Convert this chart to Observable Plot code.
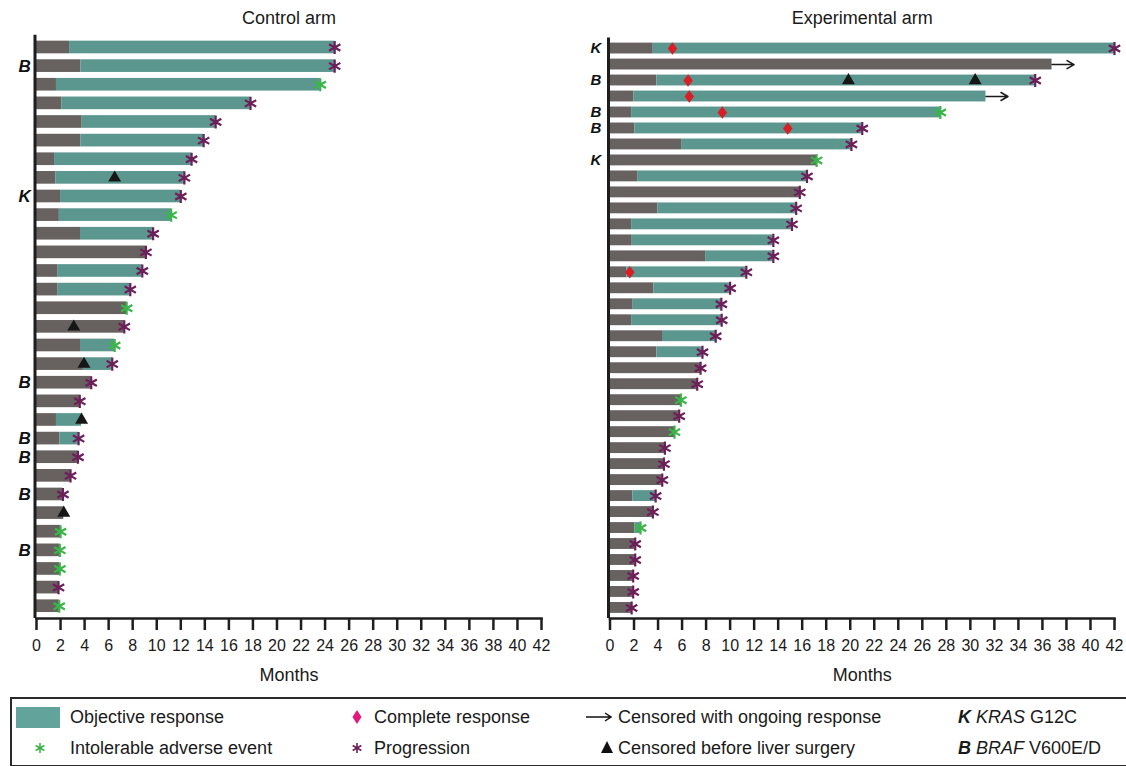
<!DOCTYPE html>
<html>
<head>
<meta charset="utf-8">
<script src="https://cdn.jsdelivr.net/npm/d3@7"></script>
<script src="https://cdn.jsdelivr.net/npm/@observablehq/plot@0.6"></script>
<style>
  body { margin: 0; background: #fff; font-family: "Liberation Sans", Arial, sans-serif; }
  #wrap { position: relative; width: 1126px; height: 766px; overflow: hidden; background: #fff; }
  #control { position: absolute; left: 0; top: 0; }
  #experimental { position: absolute; left: 574px; top: 0; }
  #legendBox { position: absolute; left: 10px; top: 697px; width: 1122px; height: 70px; border: 2px solid #2a2a2a; box-sizing: border-box; }
  #legendSym { position: absolute; left: 0; top: 0; }
  .li { position: absolute; font-size: 18px; line-height: 20px; height: 20px; color: #1a1a1a; white-space: nowrap; }
</style>
</head>
<body>
<div id="wrap">
  <div id="control"></div>
  <div id="experimental"></div>
  <div id="legendBox"></div>
  <svg id="legendSym" width="1126" height="766"></svg>
</div>
<script>
// ---------------- DATA ----------------
const monthTicks = [0,2,4,6,8,10,12,14,16,18,20,22,24,26,28,30,32,34,36,38,40,42];

// Control arm (one entry per patient, top to bottom)
const controlResponseStart = [2.75,3.7,1.66,2.1,3.8,3.7,1.5,1.6,2.0,1.9,3.66,null,1.8,1.8,null,null,3.66,3.9,null,null,1.66,1.94,null,null,null,null,null,null,null,null,null];
const controlEnd = [24.8,24.8,23.6,17.8,14.9,13.9,12.9,12.3,12.0,11.2,9.7,9.1,8.8,7.8,7.5,7.3,6.5,6.3,4.55,3.6,3.75,3.5,3.45,2.83,2.2,2.27,2.0,1.94,1.94,1.83,1.89];
const controlEvent = ["P","P","A","P","P","P","P","P","P","A","P","P","P","P","A","P","A","P","P","P","","P","P","P","P","","A","A","A","P","A"];
const controlCensorRow = [8,16,18,21,26];
const controlCensorMonth = [6.5,3.1,3.95,3.75,2.27];
const controlCRRow = [];
const controlCRMonth = [];
const controlMutationRow = [2,9,19,22,23,25,28];
const controlMutation = ["B","K","B","B","B","B","B"];

// Experimental arm
const expResponseStart = [3.6,null,3.9,2.0,1.8,2.07,5.96,null,2.3,null,4.0,1.8,1.85,7.96,1.4,3.65,1.93,1.8,4.37,3.9,null,null,null,null,null,null,null,null,1.9,null,2.07,null,null,null,null,null];
const expEnd = [42.0,36.8,35.4,31.3,27.5,21.0,20.1,17.2,16.4,15.8,15.5,15.15,13.6,13.6,11.35,10.0,9.27,9.3,8.8,7.7,7.54,7.26,5.9,5.76,5.37,4.57,4.49,4.35,3.8,3.57,2.54,2.1,2.1,1.93,1.93,1.8];
const expEvent = ["P","C","P","C","A","P","P","A","P","P","P","P","P","P","P","P","P","P","P","P","P","P","A","P","A","P","P","P","P","P","A","P","P","P","P","P"];
const expCensorRow = [3,3];
const expCensorMonth = [19.85,30.4];
const expCRRow = [1,3,4,5,6,15];
const expCRMonth = [5.2,6.5,6.6,9.35,14.8,1.65];
const expMutationRow = [1,3,5,6,8];
const expMutation = ["K","B","B","B","K"];

// ---------------- STYLE ----------------
const GREY = "#67625f";
const TEAL = "#5b978f";
const PURPLE = "#6c1f58";
const GREEN = "#3bb54a";
const RED = "#d81e26";
const INK = "#1e1e1e";
const NARROW = "'Liberation Sans Narrow', 'Arial Narrow', 'Liberation Sans', Arial, sans-serif";
const SANS = "'Liberation Sans', Arial, sans-serif";

const tallDiamond = {
  draw(context, size) {
    const r = Math.sqrt(size / Math.PI);
    context.moveTo(0, -1.25 * r);
    context.lineTo(0.95 * r, 0);
    context.lineTo(0, 1.25 * r);
    context.lineTo(-0.95 * r, 0);
    context.closePath();
  }
};
const openArrow = {
  draw(context, l) {
    context.moveTo(0, 0);
    context.lineTo(0, -l);
    context.moveTo(-4, -l + 7);
    context.lineTo(0, -l);
    context.lineTo(4, -l + 7);
  }
};

function arm(o) {
  const rows = o.end.map((e, i) => ({row: i + 1, start: o.start[i], end: e, event: o.event[i]}));
  const responders = rows.filter(d => d.start != null);
  const censor = o.censorRow.map((r, i) => ({row: r, month: o.censorMonth[i]}));
  const cr = o.crRow.map((r, i) => ({row: r, month: o.crMonth[i]}));
  const muts = o.mutRow.map((r, i) => ({row: r, label: o.mut[i]}));
  const H = 688;
  return Plot.plot({
    width: o.width, height: H,
    marginLeft: o.marginLeft, marginRight: o.marginRight,
    marginTop: o.marginTop, marginBottom: H - 618,
    style: {fontFamily: SANS, fontSize: "16px", background: "transparent", overflow: "visible"},
    x: {domain: [0, 42], label: null},
    y: {type: "band", domain: rows.map(d => d.row), padding: 0.32, round: false, axis: null},
    marks: [
      Plot.barX(rows, {y: "row", x1: 0, x2: d => d.start ?? d.end, fill: GREY}),
      Plot.barX(responders, {y: "row", x1: "start", x2: "end", fill: TEAL}),
      Plot.ruleX([0], {stroke: INK, strokeWidth: 3, dx: -1.5}),
      Plot.frame({anchor: "bottom", stroke: INK, strokeWidth: 2.5}),
      Plot.axisX({ticks: monthTicks, tickSize: 12, tickPadding: 9, stroke: INK, strokeWidth: 2.5,
                  label: null, fontSize: 16, fontFamily: NARROW, fill: "#1a1a1a"}),
      Plot.dot(censor, {x: "month", y: "row", symbol: "triangle", r: 4.8, fill: "#161616"}),
      Plot.dot(cr, {x: "month", y: "row", symbol: tallDiamond, r: 5, fill: RED}),
      Plot.dot(rows.filter(d => d.event === "P"), {x: "end", y: "row", symbol: "asterisk", r: 6.2, stroke: PURPLE, strokeWidth: 2.2}),
      Plot.dot(rows.filter(d => d.event === "A"), {x: "end", y: "row", symbol: "asterisk", r: 6.2, stroke: GREEN, strokeWidth: 2.2}),
      Plot.vector(rows.filter(d => d.event === "C"), {x: "end", y: "row", rotate: 90, length: 22, anchor: "start",
                  shape: openArrow, stroke: "#1a1a1a", strokeWidth: 1.5}),
      Plot.text(muts, {y: "row", text: "label", frameAnchor: "left", dx: o.labelDx,
                 fontWeight: "bold", fontStyle: "italic", fontSize: o.labelSize, fill: "#111"}),
      Plot.text([o.title], {text: d => d, frameAnchor: "top", lineAnchor: "middle", dy: 18 - o.marginTop, fontSize: 18, fill: "#1a1a1a"}),
      Plot.text(["Months"], {text: d => d, frameAnchor: "bottom", lineAnchor: "middle", dy: 57, fontSize: 18, fill: "#1a1a1a"})
    ]
  });
}

document.getElementById("control").append(arm({
  title: "Control arm", start: controlResponseStart, end: controlEnd, event: controlEvent,
  censorRow: controlCensorRow, censorMonth: controlCensorMonth, crRow: controlCRRow, crMonth: controlCRMonth,
  mutRow: controlMutationRow, mut: controlMutation,
  width: 574, marginLeft: 36, marginRight: 33, marginTop: 34.7, labelDx: -18, labelSize: 17
}));
document.getElementById("experimental").append(arm({
  title: "Experimental arm", start: expResponseStart, end: expEnd, event: expEvent,
  censorRow: expCensorRow, censorMonth: expCensorMonth, crRow: expCRRow, crMonth: expCRMonth,
  mutRow: expMutationRow, mut: expMutation,
  width: 552, marginLeft: 35.5, marginRight: 12, marginTop: 37.5, labelDx: -19.5, labelSize: 15
}));

// ---------------- LEGEND ----------------
const wrap = document.getElementById("wrap");
const legendItems = [
  {x: 70, y: 717, html: "Objective response"},
  {x: 70, y: 748, html: "Intolerable adverse event"},
  {x: 374, y: 717, html: "Complete response"},
  {x: 374, y: 748, html: "Progression"},
  {x: 618, y: 717, html: "Censored with ongoing response"},
  {x: 618, y: 748, html: "Censored before liver surgery"},
  {x: 958, y: 717, html: "<b><i>K</i></b> <i>KRAS</i> G12C"},
  {x: 958, y: 748, html: "<b><i>B</i></b> <i>BRAF</i> V600E/D"}
];
for (const it of legendItems) {
  const d = document.createElement("div");
  d.className = "li";
  d.style.left = it.x + "px";
  d.style.top = (it.y - 10) + "px";
  d.innerHTML = it.html;
  wrap.append(d);
}
const sym = d3.select("#legendSym");
sym.append("rect").attr("x", 16).attr("y", 707).attr("width", 44).attr("height", 21).attr("fill", "#62a39b");
const ast = (cx, cy, color) => sym.append("path")
  .attr("transform", `translate(${cx},${cy})`)
  .attr("d", d3.symbol(d3.symbolAsterisk, 70)())
  .attr("stroke", color).attr("stroke-width", 1.6).attr("fill", "none");
ast(40, 748, GREEN);
ast(357, 748, PURPLE);
sym.append("path").attr("d", "M357,710 L361.5,717 L357,724 L352.5,717 Z").attr("fill", "#e5177b");
sym.append("path").attr("d", "M586,717 L611,717 M605,713 L611,717 L605,721").attr("stroke", "#111").attr("stroke-width", 1.5).attr("fill", "none");
sym.append("path").attr("d", "M607,741 L613,753 L601,753 Z").attr("fill", "#111");
</script>
</body>
</html>
